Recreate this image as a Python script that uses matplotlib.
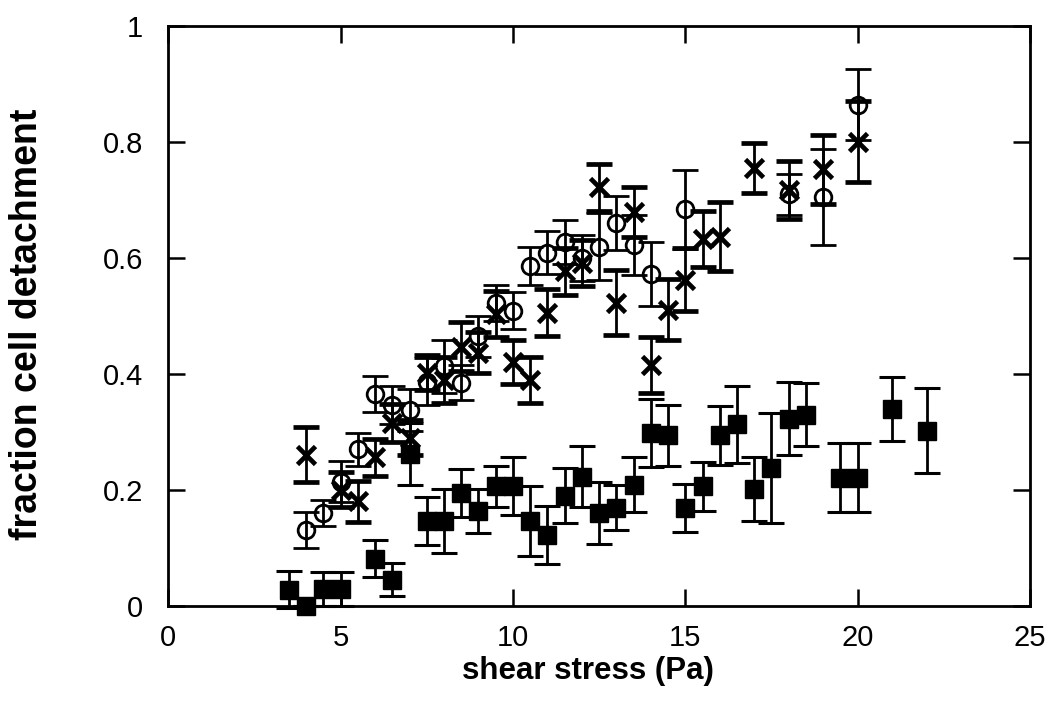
import matplotlib
matplotlib.use("Agg")
import matplotlib.pyplot as plt
from matplotlib.ticker import FixedLocator, FuncFormatter

# ---- data ----
sq_x = [3.5, 4.0, 4.5, 5.0, 6.0, 6.5, 7.0, 7.5, 8.0, 8.5, 9.0, 9.5, 10.0, 10.5, 11.0, 11.5,
        12.0, 12.5, 13.0, 13.5, 14.0, 14.5, 15.0, 15.5, 16.0, 16.5, 17.0, 17.5, 18.0, 18.5,
        19.5, 20.0, 21.0, 22.0]
sq_y = [0.028, 0.0, 0.029, 0.029, 0.081, 0.045, 0.262, 0.146, 0.146, 0.195, 0.164, 0.206, 0.206,
        0.146, 0.122, 0.19, 0.223, 0.16, 0.169, 0.209, 0.298, 0.294, 0.169, 0.206, 0.294, 0.313,
        0.202, 0.238, 0.323, 0.33, 0.221, 0.221, 0.34, 0.302]
sq_err = [0.032, 0.0, 0.03, 0.03, 0.032, 0.028, 0.054, 0.041, 0.055, 0.041, 0.038, 0.035, 0.05,
          0.06, 0.05, 0.047, 0.052, 0.053, 0.039, 0.048, 0.058, 0.053, 0.041, 0.042, 0.051, 0.066,
          0.055, 0.095, 0.063, 0.055, 0.06, 0.06, 0.055, 0.073]

ci_x = [4.0, 4.5, 5.0, 5.5, 6.0, 6.5, 7.0, 7.5, 8.0, 8.5, 9.0, 9.5, 10.0, 10.5, 11.0, 11.5,
        12.0, 12.5, 13.0, 13.5, 14.0, 15.0, 18.0, 19.0, 20.0]
ci_y = [0.131, 0.16, 0.214, 0.27, 0.366, 0.347, 0.338, 0.387, 0.413, 0.385, 0.465, 0.522, 0.509,
        0.586, 0.609, 0.627, 0.6, 0.62, 0.661, 0.622, 0.572, 0.684, 0.71, 0.706, 0.865]
ci_err = [0.031, 0.022, 0.035, 0.028, 0.031, 0.033, 0.036, 0.04, 0.045, 0.03, 0.035, 0.031, 0.032,
          0.033, 0.037, 0.038, 0.04, 0.057, 0.047, 0.052, 0.055, 0.068, 0.035, 0.083, 0.061]

x_x = [4.0, 5.0, 5.5, 6.0, 6.5, 7.0, 7.5, 8.0, 8.5, 9.0, 9.5, 10.0, 10.5, 11.0, 11.5, 12.0, 12.5,
       13.0, 13.5, 14.0, 14.5, 15.0, 15.5, 16.0, 17.0, 18.0, 19.0, 20.0]
x_y = [0.261, 0.2, 0.18, 0.256, 0.316, 0.29, 0.402, 0.39, 0.447, 0.437, 0.503, 0.42, 0.39, 0.506,
       0.577, 0.592, 0.722, 0.523, 0.68, 0.416, 0.511, 0.563, 0.633, 0.637, 0.756, 0.718, 0.753,
       0.801]
x_err = [0.047, 0.03, 0.035, 0.032, 0.033, 0.03, 0.03, 0.04, 0.042, 0.035, 0.04, 0.038, 0.04,
         0.04, 0.04, 0.04, 0.04, 0.056, 0.043, 0.048, 0.053, 0.055, 0.048, 0.06, 0.043, 0.05,
         0.06, 0.07]

x_ticks = [0, 5, 10, 15, 20, 25]
y_ticks = [0, 0.2, 0.4, 0.6, 0.8, 1.0]

plt.rcParams['font.family'] = ['Liberation Sans', 'DejaVu Sans']

W, H = 1052, 711
fig = plt.figure(figsize=(W / 100, H / 100), dpi=100)
ax = fig.add_axes([0.16, 0.148, 0.819, 0.815])

common = dict(color='black', ecolor='black', elinewidth=2.0, capsize=9.5, capthick=2.2,
              linestyle='none', clip_on=False)
ax.errorbar(sq_x, sq_y, yerr=sq_err, marker='s', markersize=13, markerfacecolor='black',
            markeredgecolor='black', **common)
ax.errorbar(ci_x, ci_y, yerr=ci_err, marker='o', markersize=12, markerfacecolor='none',
            markeredgecolor='black', markeredgewidth=2.0, **common)
ax.errorbar(x_x, x_y, yerr=x_err, marker='x', markersize=13, markeredgewidth=3.4,
            markeredgecolor='black', **common)

ax.set_xlim(0, 25)
ax.set_ylim(0, 1)
ax.xaxis.set_major_locator(FixedLocator(x_ticks))
ax.yaxis.set_major_locator(FixedLocator(y_ticks))
ax.yaxis.set_major_formatter(FuncFormatter(lambda v, p: ('%g' % v)))
ax.tick_params(direction='in', length=12, width=1.8, top=True, right=True, labelsize=21)
ax.tick_params(axis='x', pad=13)
ax.tick_params(axis='y', pad=18)
for s in ax.spines.values():
    s.set_linewidth(2)

ax.set_xlabel('shear stress (Pa)', fontsize=22.5, fontweight='bold')
ax.xaxis.set_label_coords(0.487, -0.113)
ax.xaxis.label.set_va('center')
ax.set_ylabel('fraction cell detachment', fontsize=27, fontweight='bold')
ax.yaxis.set_label_coords((27 - 168) / 862, 0.486)
ax.yaxis.label.set_va('center')

fig.savefig('out.png', dpi=100)
